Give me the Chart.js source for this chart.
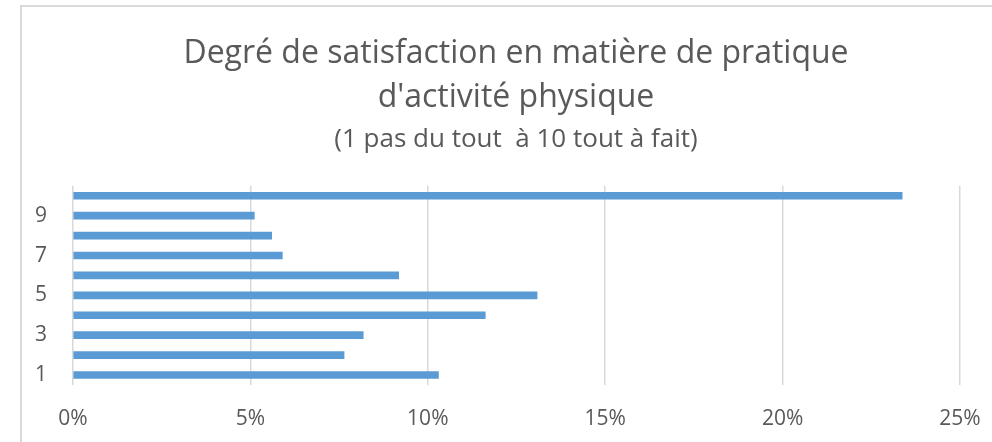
<!DOCTYPE html>
<html>
<head>
<meta charset="utf-8">
<script src="https://cdn.jsdelivr.net/npm/chart.js@4/dist/chart.umd.min.js"></script>
<style>
  html, body { margin: 0; padding: 0; background: #fff; overflow: hidden; }
  #wrap { position: relative; width: 992px; height: 442px; }
  #frame { position: absolute; left: 20px; top: 5px; width: 1000px; height: 500px; border: 2px solid #d9d9d9; box-sizing: border-box; }
  canvas { position: absolute; left: 0; top: 0; }
</style>
</head>
<body>
<div id="wrap">
  <div id="frame"></div>
  <canvas id="chart" width="992" height="442"></canvas>
</div>
<script>
// niveaux de satisfaction, de 1 (pas du tout) à 10 (tout à fait)
const levels = ["1", "2", "3", "4", "5", "6", "7", "8", "9", "10"];
// part des répondants, en %
const shares = [10.3, 7.64, 8.18, 11.62, 13.08, 9.18, 5.9, 5.6, 5.11, 23.37];
const xTicks = [0, 5, 10, 15, 20, 25];

const titleLines = ["Degré de satisfaction en matière de pratique", "d'activité physique"];
const subtitleText = "(1 pas du tout  à 10 tout à fait)";

const FONT = "'Open Sans', sans-serif";
const GREY = "#595959";

// recentre titre + sous-titre au-dessus de la zone de tracé (comme dans Excel)
const centerTitles = {
  id: "centerTitles",
  afterLayout(chart) {
    chart.boxes.forEach((b) => {
      if (b.position === "top" && b.options && b.options.text) {
        b.left = 72;
        b.right = 960;
      }
    });
  },
};

new Chart(document.getElementById("chart"), {
  type: "bar",
  data: {
    labels: levels,
    datasets: [{
      data: shares,
      backgroundColor: "#5b9bd5",
      borderWidth: 0,
      barThickness: 7,
    }],
  },
  plugins: [centerTitles],
  options: {
    indexAxis: "y",
    responsive: false,
    animation: false,
    layout: { padding: { left: 0, right: 32, top: 0, bottom: 0 } },
    plugins: {
      legend: { display: false },
      tooltip: { enabled: false },
      title: {
        display: true,
        text: titleLines,
        color: GREY,
        font: { family: FONT, size: 32, weight: "normal", lineHeight: 1.4 },
        padding: { top: 31, bottom: 0 },
      },
      subtitle: {
        display: true,
        text: subtitleText,
        color: GREY,
        font: { family: FONT, size: 26, weight: "normal", lineHeight: 1.2 },
        padding: { top: 3, bottom: 31 },
      },
    },
    scales: {
      x: {
        min: 0,
        max: 25,
        afterBuildTicks: (s) => { s.ticks = xTicks.map((v) => ({ value: v })); },
        afterFit: (s) => {
          s.height = 57;
          // pas de marge pour le débordement de "25%", la zone de tracé va jusqu'à 960
          s.paddingLeft = 0;
          s.paddingRight = 0;
        },
        grid: { color: "#d9d9d9", lineWidth: 1.5, drawTicks: false },
        border: { display: false },
        ticks: {
          color: GREY,
          padding: 21,
          maxRotation: 0,
          font: { family: FONT, size: 21 },
          callback: (v) => v + "%",
        },
      },
      y: {
        reverse: true,
        grid: { display: false, drawTicks: false },
        border: { display: false },
        afterFit: (s) => { s.width = 73; },
        ticks: {
          color: GREY,
          padding: 26,
          autoSkip: false,
          font: { family: FONT, size: 21 },
          callback: function (v, i) { return i % 2 === 0 ? this.getLabelForValue(v) : ""; },
        },
      },
    },
  },
});
</script>
</body>
</html>
